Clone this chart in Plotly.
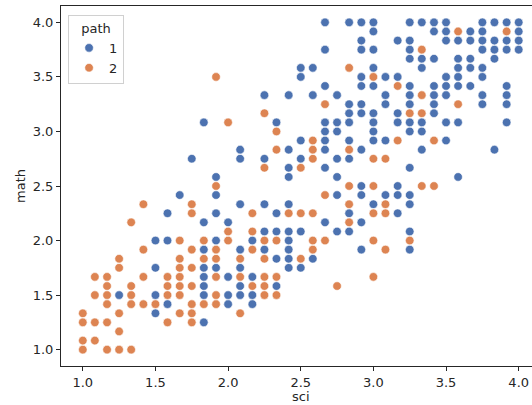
import plotly.graph_objects as go

# ---- data (sci, math) ----
sci_path1 = [
    1.833,
    1.5,
    1.583, 2.0, 2.167,
    1.25, 1.5, 1.833, 2.0, 2.083, 2.167,
    1.833, 2.083, 2.333,
    1.833, 2.0, 2.167,
    1.5, 1.833, 1.917, 2.083, 2.417, 2.5,
    2.333, 2.417, 2.583,
    1.833, 2.083, 2.25, 2.417, 2.917, 3.25,
    1.5, 1.583, 1.917, 2.167, 2.417,
    2.25, 2.333, 2.417, 2.5, 2.75, 2.833, 3.25,
    1.833, 2.0, 2.667, 2.917,
    1.583, 1.917, 2.333, 2.833, 3.167,
    2.083, 2.25, 2.417, 3.0, 3.25,
    1.667, 1.917, 2.75, 2.917, 3.083, 3.167, 3.25,
    2.917, 3.167,
    1.917, 2.417, 2.75, 3.583,
    2.417, 2.667, 3.25,
    1.75, 2.083, 2.25, 2.5, 2.75, 2.833,
    2.083, 2.417, 2.667, 2.917, 3.333, 3.833,
    2.5, 2.667, 2.833, 3.0, 3.083, 3.5,
    2.667, 2.75, 3.0, 3.25, 3.333,
    1.833, 2.333, 2.667, 2.75, 2.833, 3.0, 3.167, 3.25, 3.333, 3.5, 3.583, 3.917,
    2.833, 2.917, 3.0, 3.167, 3.417,
    2.833, 2.917, 3.083, 3.25, 3.417, 3.75, 3.917,
    2.25, 2.417, 2.583, 2.75, 3.083, 3.25, 3.417, 3.5, 3.75, 3.917,
    2.667, 2.917, 3.0, 3.25, 3.417, 3.5, 3.583, 3.667, 3.917,
    2.5, 2.917, 3.083, 3.167, 3.5, 3.583, 3.75,
    2.5, 2.583, 3.0, 3.333, 3.583, 3.667, 3.75,
    3.25, 3.333, 3.417, 3.583, 3.667, 3.833,
    2.667, 2.917, 3.0, 3.25, 3.75, 3.833, 3.917, 4.0,
    2.917, 3.167, 3.25, 3.5, 3.583, 3.667, 3.75, 3.833, 3.917, 4.0,
    3.0, 3.417, 3.5, 3.667, 3.75, 4.0,
    2.667, 2.833, 2.917, 3.0, 3.25, 3.333, 3.417, 3.5, 3.75, 3.833, 3.917, 4.0,
]
math_path1 = [
    1.25,
    1.333,
    1.417, 1.417, 1.417,
    1.5, 1.5, 1.5, 1.5, 1.5, 1.5,
    1.583, 1.583, 1.583,
    1.667, 1.667, 1.667,
    1.75, 1.75, 1.75, 1.75, 1.75, 1.75,
    1.833, 1.833, 1.833,
    1.917, 1.917, 1.917, 1.917, 1.917, 1.917,
    2.0, 2.0, 2.0, 2.0, 2.0,
    2.083, 2.083, 2.083, 2.083, 2.083, 2.083, 2.083,
    2.167, 2.167, 2.167, 2.167,
    2.25, 2.25, 2.25, 2.25, 2.25,
    2.333, 2.333, 2.333, 2.333, 2.333,
    2.417, 2.417, 2.417, 2.417, 2.417, 2.417, 2.417,
    2.5, 2.5,
    2.583, 2.583, 2.583, 2.583,
    2.667, 2.667, 2.667,
    2.75, 2.75, 2.75, 2.75, 2.75, 2.75,
    2.833, 2.833, 2.833, 2.833, 2.833, 2.833,
    2.917, 2.917, 2.917, 2.917, 2.917, 2.917,
    3.0, 3.0, 3.0, 3.0, 3.0,
    3.083, 3.083, 3.083, 3.083, 3.083, 3.083, 3.083, 3.083, 3.083, 3.083, 3.083, 3.083,
    3.167, 3.167, 3.167, 3.167, 3.167,
    3.25, 3.25, 3.25, 3.25, 3.25, 3.25, 3.25,
    3.333, 3.333, 3.333, 3.333, 3.333, 3.333, 3.333, 3.333, 3.333, 3.333,
    3.417, 3.417, 3.417, 3.417, 3.417, 3.417, 3.417, 3.417, 3.417,
    3.5, 3.5, 3.5, 3.5, 3.5, 3.5, 3.5,
    3.583, 3.583, 3.583, 3.583, 3.583, 3.583, 3.583,
    3.667, 3.667, 3.667, 3.667, 3.667, 3.667,
    3.75, 3.75, 3.75, 3.75, 3.75, 3.75, 3.75, 3.75,
    3.833, 3.833, 3.833, 3.833, 3.833, 3.833, 3.833, 3.833, 3.833, 3.833,
    3.917, 3.917, 3.917, 3.917, 3.917, 3.917,
    4.0, 4.0, 4.0, 4.0, 4.0, 4.0, 4.0, 4.0, 4.0, 4.0, 4.0, 4.0,
]

sci_path2 = [
    1.0, 1.167, 1.25, 1.333,
    1.0, 1.083,
    1.25,
    1.0, 1.083, 1.167, 1.583, 1.75,
    1.0, 1.25, 1.667, 1.75, 2.083,
    1.167, 1.333, 1.417, 1.5, 1.75, 1.833, 1.917,
    1.083, 1.167, 1.333, 1.583, 1.667, 1.917, 2.25, 2.333,
    1.167, 1.333, 1.583, 1.667, 1.75, 2.167, 2.25, 2.75,
    1.083, 1.167, 1.417, 1.583, 1.667, 1.917, 2.083, 2.25, 2.333, 3.0,
    1.25, 1.667, 1.75,
    1.25, 1.667, 1.833, 1.917, 2.083, 2.25, 2.5,
    1.417, 1.75, 1.917, 2.167, 2.583, 3.083,
    1.667, 1.833, 2.0, 2.25, 2.333, 2.583, 2.667, 3.0, 3.25,
    2.0, 2.167,
    1.333, 2.833,
    1.75, 2.167, 2.417, 2.5, 2.583, 3.0, 3.083,
    1.417, 1.75, 2.833, 3.083,
    2.667,
    1.917, 2.833, 3.0, 3.333, 3.417,
    2.25, 2.5,
    2.583, 3.0, 3.083,
    2.333, 2.583, 2.833,
    2.583, 3.167, 3.417,
    2.333,
    2.0,
    2.25, 3.25, 3.333,
    2.667, 3.583,
    3.333,
    3.167,
    1.917, 3.0,
    2.833,
    3.333,
    3.583, 3.917,
]
math_path2 = [
    1.0, 1.0, 1.0, 1.0,
    1.083, 1.083,
    1.167,
    1.25, 1.25, 1.25, 1.25, 1.25,
    1.333, 1.333, 1.333, 1.333, 1.333,
    1.417, 1.417, 1.417, 1.417, 1.417, 1.417, 1.417,
    1.5, 1.5, 1.5, 1.5, 1.5, 1.5, 1.5, 1.5,
    1.583, 1.583, 1.583, 1.583, 1.583, 1.583, 1.583, 1.583,
    1.667, 1.667, 1.667, 1.667, 1.667, 1.667, 1.667, 1.667, 1.667, 1.667,
    1.75, 1.75, 1.75,
    1.833, 1.833, 1.833, 1.833, 1.833, 1.833, 1.833,
    1.917, 1.917, 1.917, 1.917, 1.917, 1.917,
    2.0, 2.0, 2.0, 2.0, 2.0, 2.0, 2.0, 2.0, 2.0,
    2.083, 2.083,
    2.167, 2.167,
    2.25, 2.25, 2.25, 2.25, 2.25, 2.25, 2.25,
    2.333, 2.333, 2.333, 2.333,
    2.417,
    2.5, 2.5, 2.5, 2.5, 2.5,
    2.667, 2.667,
    2.75, 2.75, 2.75,
    2.833, 2.833, 2.833,
    2.917, 2.917, 2.917,
    3.0,
    3.083,
    3.167, 3.167, 3.167,
    3.25, 3.25,
    3.333,
    3.417,
    3.5, 3.5,
    3.583,
    3.75,
    3.917, 3.917,
]

assert len(sci_path1) == len(math_path1), (len(sci_path1), len(math_path1))
assert len(sci_path2) == len(math_path2), (len(sci_path2), len(math_path2))

path_labels = ["1", "2"]
path_colors = ["#4C72B0", "#DD8452"]
tick_vals = [1.0, 1.5, 2.0, 2.5, 3.0, 3.5, 4.0]
tick_text = ["1.0", "1.5", "2.0", "2.5", "3.0", "3.5", "4.0"]

FONT = "DejaVu Sans"
TXT = "#262626"

fig = go.Figure()
for xs, ys, lab, col in [(sci_path1, math_path1, path_labels[0], path_colors[0]),
                         (sci_path2, math_path2, path_labels[1], path_colors[1])]:
    fig.add_trace(go.Scatter(
        x=xs, y=ys, mode="markers", name=lab,
        marker=dict(color=col, size=8.6, line=dict(color="white", width=0.6)),
    ))

W, H = 532, 405
ml, mr, mt, mb = 61, 0, 6, 39
px_per_unit_x = 145.3
x_lo = 0.85
x_hi = x_lo + (W - ml - mr) / px_per_unit_x

axis_common = dict(
    showgrid=False, zeroline=False, showline=True, linecolor="#262626", linewidth=1,
    ticks="outside", ticklen=4, tickwidth=1, tickcolor="#262626",
    tickfont=dict(family=FONT, size=13, color=TXT),
    tickvals=tick_vals, ticktext=tick_text,
)

fig.update_layout(
    width=W, height=H,
    margin=dict(l=ml, r=mr, t=mt, b=mb, pad=0),
    paper_bgcolor="white", plot_bgcolor="white",
    font=dict(family=FONT, size=13, color=TXT),
    xaxis=dict(range=[x_lo, x_hi], mirror=True, **axis_common),
    yaxis=dict(range=[0.85, 4.15], mirror=False, **axis_common),
    showlegend=True,
    legend=dict(
        title=dict(text="path", side="top center", font=dict(family=FONT, size=13, color=TXT)),
        x=0.015, y=0.975, xanchor="left", yanchor="top",
        bgcolor="rgba(255,255,255,0.8)", bordercolor="#d0d0d0", borderwidth=1,
        font=dict(family=FONT, size=13, color=TXT),
        itemwidth=30, tracegroupgap=0,
    ),
    annotations=[
        dict(text="sci", xref="paper", yref="paper", x=(301 - ml) / (W - ml - mr), y=0,
             yshift=-30, showarrow=False, xanchor="center", yanchor="middle",
             font=dict(family=FONT, size=13, color=TXT)),
        dict(text="math", xref="paper", yref="paper", x=0, y=0.5, xshift=20 - ml,
             textangle=-90, showarrow=False, xanchor="center", yanchor="middle",
             font=dict(family=FONT, size=13, color=TXT)),
    ],
)

fig.write_html("out.html")
